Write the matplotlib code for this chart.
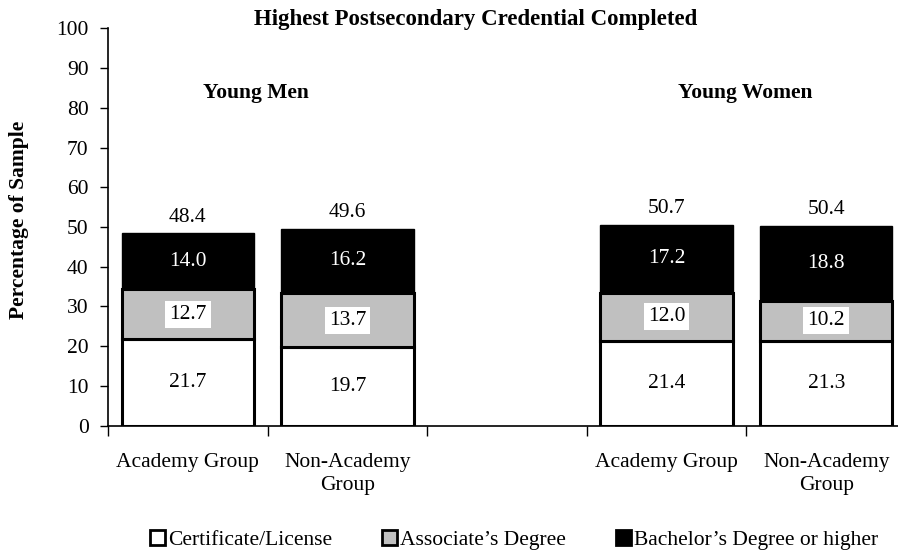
import numpy as np
from matplotlib import pyplot as plt
from matplotlib.patches import Patch

# credential shares, percent of sample
groups = ['Academy Group', 'Non-Academy\nGroup', '', 'Academy Group', 'Non-Academy\nGroup']
certificate = [21.7, 19.7, 0, 21.4, 21.3]
associate = [12.7, 13.7, 0, 12.0, 10.2]
bachelor = [14.0, 16.2, 0, 17.2, 18.8]
totals = [48.4, 49.6, 0, 50.7, 50.4]
series_names = ['Certificate/License', "Associate\u2019s Degree", "Bachelor\u2019s Degree or higher"]

plt.rcParams['font.family'] = ['Liberation Serif', 'DejaVu Serif']

fig = plt.figure(figsize=(8.98, 5.53), dpi=100)
ax = fig.add_axes([108 / 898, 127.3 / 553, 798 / 898, 397.4 / 553])

x = np.arange(len(groups))
used = [i for i in x if totals[i] > 0]
cert = np.array(certificate)
assoc = np.array(associate)
bach = np.array(bachelor)

w = 0.83
ax.bar(x[used], cert[used], width=w, color='white', edgecolor='black', linewidth=2.2)
ax.bar(x[used], assoc[used], width=w, bottom=cert[used], color='#c0c0c0', edgecolor='black', linewidth=2.2)
ax.bar(x[used], bach[used], width=w, bottom=cert[used] + assoc[used], color='black', edgecolor='black', linewidth=1)

fs = 15.5
for i in used:
    ax.text(i, cert[i] / 2, f'{cert[i]:.1f}', ha='center', va='center', fontsize=fs)
    ax.text(i, cert[i] + assoc[i] / 2, f'{assoc[i]:.1f}', ha='center', va='center', fontsize=fs,
            bbox=dict(facecolor='white', edgecolor='none', pad=3))
    ax.text(i, cert[i] + assoc[i] + bach[i] / 2, f'{bach[i]:.1f}', ha='center', va='center',
            fontsize=fs, color='white')
    ax.text(i, totals[i] + 4, f'{totals[i]:.1f}', ha='center', va='center', fontsize=fs)

ax.text(0.43, 83.6, 'Young Men', ha='center', va='center', fontsize=fs, fontweight='bold')
ax.text(3.49, 83.6, 'Young Women', ha='center', va='center', fontsize=fs, fontweight='bold')

ax.set_xlim(-0.5, 4.5)
ax.set_ylim(0, 100)
ax.set_yticks(range(0, 101, 10))
ax.tick_params(axis='y', labelsize=fs, length=6, width=1, pad=8)

# boundary ticks between categories, labels at the centers
ax.set_xticks(np.arange(-0.5, 4.6, 1))
ax.set_xticklabels([])
ax.set_xticks(x[used], minor=True)
ax.set_xticklabels([groups[i] for i in used], minor=True, fontsize=fs, linespacing=1.25)
ax.tick_params(axis='x', which='major', length=7, width=1)
ax.tick_params(axis='x', which='minor', length=0, pad=20)

for s in ['top', 'right']:
    ax.spines[s].set_visible(False)
ax.spines['left'].set_linewidth(1.2)
ax.spines['bottom'].set_linewidth(1.2)

ax.set_ylabel('Percentage of Sample', fontsize=fs, fontweight='bold')
ax.yaxis.set_label_coords(-79 / 798, 0.518)
fig.text(476 / 898, 1 - 20 / 553, 'Highest Postsecondary Credential Completed',
         ha='center', va='center', fontsize=16.5, fontweight='bold')

handles = [Patch(facecolor=c, edgecolor='black', linewidth=2) for c in ['white', '#c0c0c0', 'black']]
fig.legend(handles, series_names, loc='center', bbox_to_anchor=(514 / 898, 1 - 540 / 553), ncol=3,
           frameon=False, fontsize=fs, handlelength=0.7, handleheight=0.7, handletextpad=0.15,
           columnspacing=2.3)

fig.savefig('out.png', dpi=100)
